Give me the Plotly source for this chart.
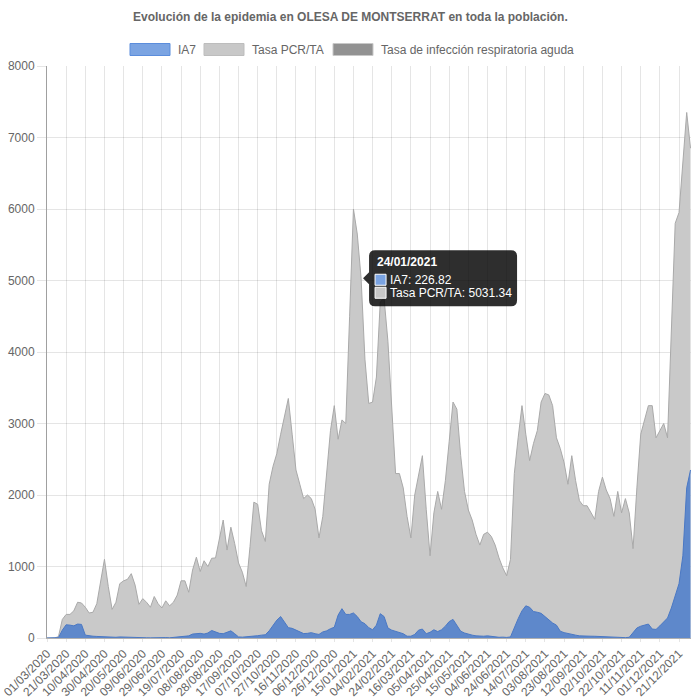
import pandas as pd
import plotly.graph_objects as go

# ---------------- data (sampled every 4 days from 01/03/2020) ----------------
start_date = "2020-03-01"
step_days = 4

tasa_pcr = [
    0, 0, 0, 20, 260, 330, 330, 380, 500, 490,
    430, 350, 360, 480, 820, 1100, 720, 400, 500, 760,
    800, 820, 900, 740, 470, 550, 500, 430, 580, 480,
    420, 520, 450, 500, 600, 800, 800, 640, 950, 1130,
    930, 1080, 1000, 1115, 1120, 1400, 1650, 1230, 1550, 1320,
    1050, 920, 720, 1280, 1900, 1870, 1500, 1350, 2150, 2400,
    2580, 2850, 3100, 3350, 2850, 2350, 2150, 1950, 2000, 1950,
    1800, 1400, 1700, 2350, 2900, 3250, 2780, 3050, 3000, 4500,
    6000, 5650, 5031.34, 3900, 3280, 3300, 3650, 4700, 4750, 4150,
    3300, 2300, 2300, 2100, 1700, 1400, 2000, 2300, 2550, 1800,
    1150, 1750, 2050, 1800, 2200, 2750, 3300, 3200, 2550, 2050,
    1790, 1650, 1450, 1300, 1450, 1480, 1420, 1300, 1120, 980,
    870, 1100, 2300, 2800, 3250, 2850, 2480, 2720, 2900, 3300,
    3420, 3400, 3250, 2800, 2650, 2450, 2150, 2550, 2200, 1920,
    1850, 1850, 1750, 1660, 2050, 2250, 2070, 1950, 1700, 2050,
    1750, 1950, 1750, 1250, 2100, 2850, 3050, 3250, 3250, 2800,
    2900, 3000, 2800, 4300, 5800, 5950, 6600, 7350, 6850,
]

ia7 = [
    0, 0, 0, 5, 110, 185, 180, 170, 195, 190,
    40, 28, 25, 22, 18, 12, 10, 8, 10, 15,
    12, 8, 6, 5, 4, 3, 3, 2, 3, 8,
    12, 6, 3, 8, 14, 20, 25, 30, 55, 62,
    65, 55, 70, 105, 85, 65, 60, 80, 100, 60,
    15, 12, 15, 22, 28, 32, 40, 45, 100, 170,
    250, 300, 230, 145, 135, 110, 80, 62, 65, 75,
    60, 50, 85, 100, 130, 150, 320, 410, 330, 330,
    350, 300, 226.82, 200, 145, 115, 180, 340, 300, 140,
    110, 95, 85, 60, 25, 25, 50, 110, 125, 60,
    80, 115, 90, 115, 165, 230, 260, 180, 95, 70,
    50, 40, 30, 25, 25, 30, 20, 12, 10, 12,
    8, 15, 150, 270, 380, 450, 430, 370, 360, 345,
    300, 250, 210, 180, 95, 75, 60, 50, 40, 30,
    25, 22, 25, 24, 22, 18, 15, 12, 8, 5,
    5, 5, 10, 70, 140, 165, 185, 195, 125, 120,
    170, 220, 280, 420, 580, 760, 1150, 2100, 2350,
]

dates = pd.date_range(start_date, periods=len(ia7), freq=f"{step_days}D")

tick_dates = pd.date_range("2020-03-01", "2021-12-21", freq="20D")
tick_labels = [d.strftime("%d/%m/%Y") for d in tick_dates]

series_names = ["IA7", "Tasa PCR/TA", "Tasa de infección respiratoria aguda"]
title_text = "Evolución de la epidemia en OLESA DE MONTSERRAT en toda la población."

tooltip_date = "2021-01-24"
tooltip_title = "24/01/2021"
tooltip_ia7 = 226.82
tooltip_pcr = 5031.34

# ---------------- figure ----------------
W, H = 700, 700
L, R, T, B = 47, 9, 66, 62
PW, PH = W - L - R, H - T - B
FONT = "Liberation Sans, Arial, Helvetica, sans-serif"
TXT = "#666666"


def px(xp):
    return (xp - L) / PW


def py(yp):
    return (H - B - yp) / PH


fig = go.Figure()
fig.add_trace(go.Scatter(
    x=dates, y=tasa_pcr, name=series_names[1], mode="lines",
    line=dict(color="#a9a9a9", width=1), fill="tozeroy",
    fillcolor="#c9c9c9", hoverinfo="skip", showlegend=False,
))
fig.add_trace(go.Scatter(
    x=dates, y=ia7, name=series_names[0], mode="lines",
    line=dict(color="#4a78c4", width=1), fill="tozeroy",
    fillcolor="#5e88cb", hoverinfo="skip", showlegend=False,
))

shapes = []
annotations = []

# title
annotations.append(dict(
    text=f"<b>{title_text}</b>", xref="paper", yref="paper",
    x=px(350), y=py(17), xanchor="center", yanchor="middle",
    showarrow=False, font=dict(family=FONT, size=12, color=TXT),
))

# manual legend (Chart.js style boxes)
legend_items = [
    (series_names[0], 130, "#7ba4e2", "#5b8ddc"),
    (series_names[1], 204, "#c8c8c8", "#bdbdbd"),
    (series_names[2], 333, "#929292", "#c8c8c8"),
]
for name, x0, fc, lc in legend_items:
    shapes.append(dict(
        type="rect", xref="paper", yref="paper",
        x0=px(x0), x1=px(x0 + 40), y0=py(55.5), y1=py(43.5),
        fillcolor=fc, line=dict(color=lc, width=1), layer="above",
    ))
    annotations.append(dict(
        text=name, xref="paper", yref="paper",
        x=px(x0 + 46), y=py(49.5), xanchor="left", yanchor="middle",
        showarrow=False, font=dict(family=FONT, size=12, color=TXT),
    ))

# tooltip (anchored at the hovered point)
tip_path = (
    "M 13,28 L 149,28 Q 155,28 155,22 L 155,-22 Q 155,-28 149,-28 "
    "L 13,-28 Q 7,-28 7,-22 L 7,-6 L 1,0 L 7,6 L 7,22 Q 7,28 13,28 Z"
)
shapes.append(dict(
    type="path", xref="x", yref="y", xsizemode="pixel", ysizemode="pixel",
    xanchor=tooltip_date, yanchor=tooltip_pcr, path=tip_path,
    fillcolor="rgba(0,0,0,0.82)", line=dict(width=0), layer="above",
))
for (c, y0, y1) in [("#7ba4e2", 4, -7), ("#c8c8c8", -9, -20)]:
    shapes.append(dict(
        type="rect", xref="x", yref="y", xsizemode="pixel", ysizemode="pixel",
        xanchor=tooltip_date, yanchor=tooltip_pcr,
        x0=13, x1=24, y0=y0, y1=y1,
        fillcolor=c, line=dict(color="#ffffff", width=1), layer="above",
    ))
for text, dy, bold in [
    (tooltip_title, 16, True),
    (f"{series_names[0]}: {tooltip_ia7}", -1.5, False),
    (f"{series_names[1]}: {tooltip_pcr}", -14.5, False),
]:
    annotations.append(dict(
        text=f"<b>{text}</b>" if bold else text,
        xref="x", yref="y", x=tooltip_date, y=tooltip_pcr,
        xshift=(13 if bold else 26), yshift=dy,
        xanchor="left", yanchor="middle", showarrow=False,
        font=dict(family=FONT, size=12, color="#ffffff"),
    ))

fig.update_layout(
    width=W, height=H,
    margin=dict(l=L, r=R, t=T, b=B, autoexpand=False),
    paper_bgcolor="white", plot_bgcolor="white",
    showlegend=False,
    font=dict(family=FONT, size=12, color=TXT),
    shapes=shapes, annotations=annotations,
)
fig.update_xaxes(
    type="date", automargin=False,
    range=[start_date, "2022-01-02 12:00"],
    tickvals=tick_dates, ticktext=tick_labels, tickangle=-45,
    showgrid=True, gridcolor="rgba(0,0,0,0.1)", gridwidth=1,
    ticks="outside", ticklen=3, tickcolor="rgba(0,0,0,0.1)",
    showline=True, linecolor="#b0b0b0", linewidth=1,
    tickfont=dict(family=FONT, size=12, color=TXT),
    zeroline=False,
)
fig.update_yaxes(
    range=[0, 8000], dtick=1000, tick0=0, automargin=False,
    showgrid=True, gridcolor="rgba(0,0,0,0.1)", gridwidth=1,
    ticks="outside", ticklen=9, tickcolor="rgba(0,0,0,0.1)",
    showline=True, linecolor="#a0a0a0", linewidth=1,
    tickfont=dict(family=FONT, size=12, color=TXT),
    zeroline=False,
)

fig.write_html(
    "out.html",
    config={"displayModeBar": False, "staticPlot": True},
    post_script="document.body.style.margin='0';document.body.style.overflow='hidden';",
)
